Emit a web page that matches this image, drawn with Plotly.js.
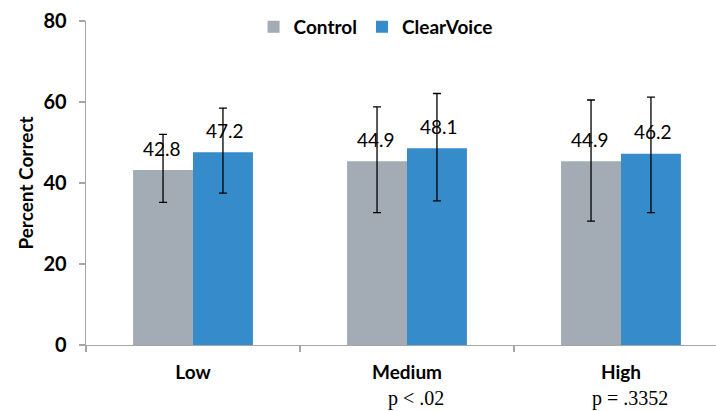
<!DOCTYPE html>
<html>
<head>
<meta charset="utf-8">
<script src="https://cdn.plot.ly/plotly-3.0.1.min.js"></script>
<style>html,body{margin:0;padding:0;background:#fff;}#chart{width:716px;height:411px;}</style>
</head>
<body>
<div id="chart"></div>
<script>
var categories = ['Low', 'Medium', 'High'];
var seriesNames = ['Control', 'ClearVoice'];
var controlValues = [43.2, 45.4, 45.4];
var clearVoiceValues = [47.6, 48.6, 47.2];
var controlLabels = ['42.8', '44.9', '44.9'];
var clearVoiceLabels = ['47.2', '48.1', '46.2'];
var controlErrTop = [52.0, 58.8, 60.5];
var controlErrBottom = [35.2, 32.7, 30.6];
var clearVoiceErrTop = [58.5, 62.1, 61.2];
var clearVoiceErrBottom = [37.5, 35.6, 32.7];
var pValueLabels = ['', 'p < .02', 'p = .3352'];
var yTicks = [0, 20, 40, 60, 80];

function plus(v, t) { return v.map(function (x, i) { return t[i] - x; }); }
function minus(v, b) { return v.map(function (x, i) { return x - b[i]; }); }

var errStyle = {color: '#000000', thickness: 1.3, width: 4};

var traces = [
  {
    type: 'bar', name: seriesNames[0], x: categories, y: controlValues,
    marker: {color: '#A3ACB5'},
    error_y: Object.assign({type: 'data', symmetric: false,
      array: plus(controlValues, controlErrTop),
      arrayminus: minus(controlValues, controlErrBottom)}, errStyle),
    hoverinfo: 'skip'
  },
  {
    type: 'bar', name: seriesNames[1], x: categories, y: clearVoiceValues,
    marker: {color: '#368BCB'},
    error_y: Object.assign({type: 'data', symmetric: false,
      array: plus(clearVoiceValues, clearVoiceErrTop),
      arrayminus: minus(clearVoiceValues, clearVoiceErrBottom)}, errStyle),
    hoverinfo: 'skip'
  }
];

var annotations = [];
categories.forEach(function (c, i) {
  annotations.push({x: c, y: controlValues[i], xref: 'x', yref: 'y', text: controlLabels[i],
    showarrow: false, xshift: -31, yshift: 22, font: {family: 'Lato, sans-serif', size: 19, color: '#000'}});
  annotations.push({x: c, y: clearVoiceValues[i], xref: 'x', yref: 'y', text: clearVoiceLabels[i],
    showarrow: false, xshift: 32, yshift: 22, font: {family: 'Lato, sans-serif', size: 19, color: '#000'}});
  if (pValueLabels[i]) {
    annotations.push({x: c, y: 0, xref: 'x', yref: 'y', text: pValueLabels[i],
      showarrow: false, xshift: 9, yshift: -53, font: {family: '"Liberation Serif", serif', size: 20, color: '#000'}});
  }
});

var layout = {
  width: 716, height: 411,
  margin: {l: 86, r: 0, t: 21, b: 66},
  paper_bgcolor: '#ffffff', plot_bgcolor: '#ffffff',
  barmode: 'group', bargap: 0.44, bargroupgap: 0,
  showlegend: true,
  legend: {orientation: 'h', x: 0.266, y: 0.982, xanchor: 'left', yanchor: 'middle',
    font: {family: 'Lato, sans-serif', size: 19, color: '#000', weight: 'bold'},
    bgcolor: 'rgba(0,0,0,0)', traceorder: 'normal', itemclick: false, itemwidth: 30, tracegroupgap: 0},
  xaxis: {
    type: 'category', range: [-0.5, 2.444], fixedrange: true,
    showline: true, linecolor: '#A6A6A6', linewidth: 1.3,
    ticks: 'outside', tickson: 'boundaries', ticklen: 6, tickcolor: '#A6A6A6', tickwidth: 1.3,
    ticklabelstandoff: 10,
    tickfont: {family: 'Lato, sans-serif', size: 19, color: '#000', weight: 'bold'},
    showgrid: false, zeroline: false
  },
  yaxis: {
    range: [0, 80], tickvals: yTicks, fixedrange: true,
    showline: true, linecolor: '#A6A6A6', linewidth: 1.3,
    ticks: 'outside', ticklen: 6, tickcolor: '#A6A6A6', tickwidth: 1.3,
    ticklabelstandoff: 8,
    tickfont: {family: 'Lato, sans-serif', size: 20, color: '#000', weight: 'bold'},
    showgrid: false, zeroline: false,
    title: {text: 'Percent Correct', standoff: 4,
      font: {family: 'Lato, sans-serif', size: 19, color: '#000', weight: 'bold'}}
  },
  annotations: annotations
};

Plotly.newPlot('chart', traces, layout, {staticPlot: true, displayModeBar: false});
</script>
</body>
</html>
